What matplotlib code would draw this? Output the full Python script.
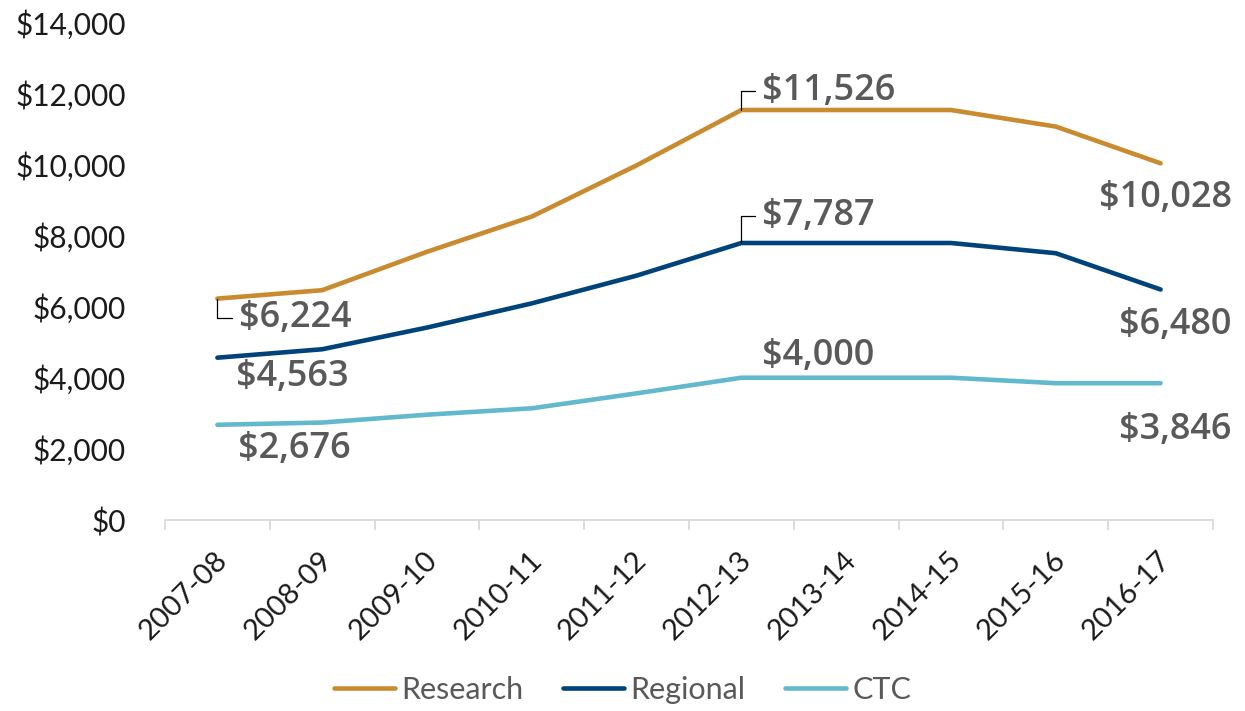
import matplotlib
matplotlib.use("Agg")
import matplotlib.pyplot as plt
import matplotlib.transforms as mtransforms
from matplotlib.ticker import FuncFormatter, FixedLocator

# data
years = ["2007-08", "2008-09", "2009-10", "2010-11", "2011-12",
         "2012-13", "2013-14", "2014-15", "2015-16", "2016-17"]
research = [6224, 6460, 7540, 8530, 9970, 11526, 11526, 11526, 11060, 10028]
regional = [4563, 4800, 5410, 6090, 6870, 7787, 7787, 7787, 7500, 6480]
ctc = [2676, 2740, 2960, 3140, 3560, 4000, 4000, 4000, 3846, 3846]

series_names = ["Research", "Regional", "CTC"]
series_colors = ["#C98B2F", "#00437A", "#62B9CD"]

# labelled points: (series index, point index, offset px, align, leader)
labels = [
    (0, 0, (22, -19), "left", True),
    (1, 0, (19, -19), "left", False),
    (2, 0, (21, -24), "left", False),
    (0, 5, (21, 19), "left", True),
    (1, 5, (21, 27), "left", True),
    (2, 5, (21, 22), "left", False),
    (0, 9, (71, -35), "right", False),
    (1, 9, (71, -36), "right", False),
    (2, 9, (71, -47), "right", False),
]

tick_font = "Lato"
label_font = "Open Sans"
label_color = "#595959"

fig = plt.figure(figsize=(12.45, 7.11), dpi=100)
ax = fig.add_axes([165 / 1245, 1 - 520 / 711, (1213 - 165) / 1245, (520 - 22) / 711])

all_series = [research, regional, ctc]
x = list(range(len(years)))
for vals, name, col in zip(all_series, series_names, series_colors):
    ax.plot(x, vals, color=col, lw=3.3, label=name, solid_capstyle="round", solid_joinstyle="round")

ax.set_xlim(-0.5, len(years) - 0.5)
ax.set_ylim(0, 14000)
ax.set_yticks(range(0, 14001, 2000))
ax.yaxis.set_major_formatter(FuncFormatter(lambda v, p: f"${int(v):,}"))
ax.set_xticks(x)
ax.set_xticklabels(years, rotation=45, ha="right", va="center", rotation_mode="anchor")
ax.xaxis.set_minor_locator(FixedLocator([i - 0.5 for i in range(len(years) + 1)]))

for s in ["top", "right", "left"]:
    ax.spines[s].set_visible(False)
ax.spines["bottom"].set_color("#D9D9D9")
ax.spines["bottom"].set_linewidth(1.3)

ax.tick_params(axis="y", length=0, pad=28, labelsize=21.5, labelcolor="#1a1a1a")
ax.tick_params(axis="x", which="major", length=0, pad=26, labelsize=21, labelcolor="#1a1a1a")
ax.tick_params(axis="x", which="minor", length=7, width=1.3, color="#D9D9D9")
shift = mtransforms.ScaledTranslation(6 / 100, 0, fig.dpi_scale_trans)
for t in ax.get_xticklabels():
    t.set_transform(t.get_transform() + shift)
for t in ax.get_xticklabels() + ax.get_yticklabels():
    t.set_fontfamily(tick_font)

# data labels
for si, pi, (dx, dy), align, leader in labels:
    val = all_series[si][pi]
    arrow = None
    if leader:
        arrow = dict(arrowstyle="-", color="black", lw=0.9, shrinkA=3, shrinkB=0,
                     relpos=(0, 0.5), connectionstyle="angle,angleA=0,angleB=90,rad=0")
    ax.annotate(f"${val:,}", xy=(pi, val), xytext=(dx * 0.72, dy * 0.72),
                textcoords="offset points", ha=align, va="center",
                fontsize=26, fontweight="semibold", family=label_font,
                color=label_color, arrowprops=arrow)

leg = fig.legend(loc="center", bbox_to_anchor=(0.5, 1 - 690 / 711), ncol=3, frameon=False,
                 handlelength=2.0, handletextpad=0.2, columnspacing=1.3,
                 prop={"family": tick_font, "size": 22})
for t in leg.get_texts():
    t.set_color(label_color)

plt.savefig("out.png", dpi=100)
